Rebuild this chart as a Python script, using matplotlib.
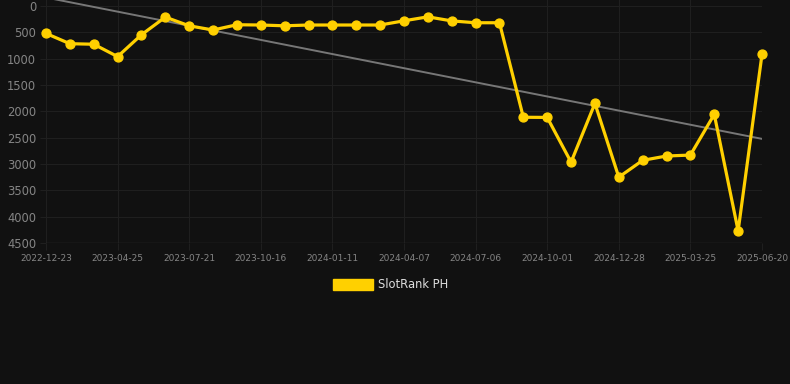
import numpy as np
import matplotlib
matplotlib.use("Agg")
import matplotlib.pyplot as plt
from matplotlib.patches import Patch

# rank values (lower is better, axis reversed)
ranks = [520, 715, 725, 960, 545, 210, 375, 455, 355, 360,
         375, 360, 360, 360, 360, 280, 205, 282, 317, 317,
         2112, 2115, 2965, 1848, 3250, 2930, 2848, 2830, 2057, 4270,
         918]
date_labels = ["2022-12-23", "2023-04-25", "2023-07-21", "2023-10-16",
               "2024-01-11", "2024-04-07", "2024-07-06", "2024-10-01",
               "2024-12-28", "2025-03-25", "2025-06-20"]
y_ticks = [0, 500, 1000, 1500, 2000, 2500, 3000, 3500, 4000, 4500]
series_name = "SlotRank PH"

bg = "#111111"
grid_c = "#1f1f1f"
gold = "#FFD000"

x = np.arange(len(ranks))
label_pos = x[::3]

fig = plt.figure(figsize=(7.9, 3.84), dpi=100, facecolor=bg)
ax = fig.add_axes([46 / 790, 1 - 243 / 384, (762 - 46) / 790, 243 / 384])
ax.set_facecolor(bg)

# trend line
k, b = np.polyfit(x, ranks, 1)
ax.plot(x, k * x + b, color="#777777", lw=1.4, zorder=2)

ax.plot(x, ranks, color=gold, lw=2.3, marker="o", ms=6.4, mfc=gold, mec=gold,
        zorder=3, clip_on=False)

ax.set_xlim(0, len(ranks) - 1)
ax.set_ylim(4500, -115)
ax.set_yticks(y_ticks)
ax.set_yticklabels([str(v) for v in y_ticks])
ax.set_xticks(label_pos)
ax.set_xticklabels(date_labels)

ax.grid(True, color=grid_c, lw=0.8)
ax.set_axisbelow(True)
for s in ax.spines.values():
    s.set_visible(False)
ax.axhline(4500, color="#2e2e2e", lw=1, zorder=1)

ax.tick_params(axis="y", colors=grid_c, labelcolor="#858585", labelsize=8.3,
               length=4, pad=3)
ax.tick_params(axis="x", colors=grid_c, labelcolor="#858585", labelsize=6.5,
               length=5, pad=3)

fig.legend(handles=[Patch(facecolor=gold, edgecolor=gold)], labels=[series_name],
           loc="center", bbox_to_anchor=(0.495, 1 - 285 / 384), frameon=False,
           handlelength=3.4, handleheight=1.0, handletextpad=0.5,
           fontsize=8.3, labelcolor="#dddddd")

fig.savefig("out.png", dpi=100, facecolor=bg)
